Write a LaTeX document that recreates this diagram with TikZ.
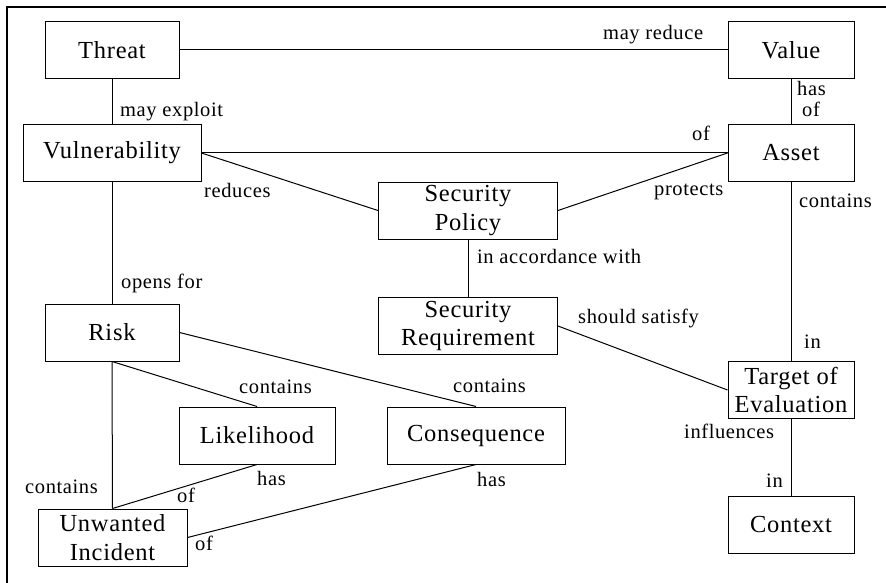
\documentclass[tikz,border=0pt]{standalone}
\usepackage{fontspec}
\setmainfont[LetterSpace=3]{Liberation Serif}
\usetikzlibrary{positioning}

\tikzset{
	entity/.style = {draw, line width = 1pt, minimum height = 57pt, inner sep = 0pt,
		align = center, font = \fontsize{24.5}{28.5}\selectfont},
	lbl/.style = {inner sep = 0pt, anchor = base west, font = \fontsize{20.5}{24}\selectfont},
	link/.style = {line width = 1pt}
}

\begin{document}
\begin{tikzpicture}[x = 1pt, y = -1pt]
	\useasboundingbox (0,0) rectangle (886,583);

	% frame
	\draw [line width = 2.5pt] (7,583) -- (7,7) -- (886,7);

	% entities
	\node [entity, minimum width = 134pt] (threat) at (112,50) {Threat};
	\node [entity, minimum width = 126pt] (value) at (791,50) {Value};
	\node [entity, minimum width = 178pt] (vuln) at (112,153) {Vulnerability};
	\node [entity, minimum width = 126pt] (asset) at (791,153) {Asset};
	\node [entity, minimum width = 179pt] (policy) at (468,210.5) {Security\\Policy};
	\node [entity, minimum width = 179pt] (req) at (468,326) {Security\\Requirement};
	\node [entity, minimum width = 134pt] (risk) at (112,332.5) {Risk};
	\node [entity, minimum width = 156pt] (likeli) at (257,435.5) {Likelihood};
	\node [entity, minimum width = 178pt] (conseq) at (476,435.5) {Consequence};
	\node [entity, minimum width = 149pt] (incident) at (112.5,537.5) {Unwanted\\Incident};
	\node [entity, minimum width = 126pt] (toe) at (791,390) {Target of\\Evaluation};
	\node [entity, minimum width = 126pt] (context) at (791,524.5) {Context};

	% associations
	\draw [link] (threat.east) -- (value.west);
	\draw [link] (threat) -- (vuln);
	\draw [link] (value) -- (asset);
	\draw [link] (vuln.east) -- (asset.west);
	\draw [link] (vuln.east) -- (policy.west);
	\draw [link] (asset.west) -- (policy.east);
	\draw [link] (asset) -- (toe);
	\draw [link] (policy) -- (req);
	\draw [link] (req.east) -- (toe.west);
	\draw [link] (toe) -- (context);
	\draw [link] (vuln) -- (risk);
	\draw [link] (risk.east) -- (conseq.north);
	\draw [link] (risk.south) -- (likeli.north);
	\draw [link] (risk.south) -- (incident.north);
	\draw [link] (likeli.south) -- (incident.north);
	\draw [link] (conseq.south) -- (incident.east);

	% roles
	\node [lbl] (l-mayreduce) at (603,40) {may reduce};
	\node [lbl] (l-mayexploit) at (120,117) {may exploit};
	\node [lbl] (l-has-value) at (797,96) {has};
	\node [lbl] (l-of-value) at (802,117) {of};
	\node [lbl] (l-of-asset) at (692,141) {of};
	\node [lbl] (l-reduces) at (204,197) {reduces};
	\node [lbl] (l-protects) at (654,195) {protects};
	\node [lbl] (l-contains-asset) at (799,207) {contains};
	\node [lbl] (l-accordance) at (477,263) {in accordance with};
	\node [lbl] (l-opensfor) at (121,288) {opens for};
	\node [lbl] (l-satisfy) at (578,323) {should satisfy};
	\node [lbl] (l-in-toe) at (804,348) {in};
	\node [lbl] (l-influences) at (684,438) {influences};
	\node [lbl] (l-in-context) at (766,487) {in};
	\node [lbl] (l-contains-conseq) at (453,392) {contains};
	\node [lbl] (l-has-conseq) at (477,486) {has};
	\node [lbl] (l-contains-likeli) at (239,393) {contains};
	\node [lbl] (l-has-likeli) at (257,485) {has};
	\node [lbl] (l-contains-incident) at (25,493) {contains};
	\node [lbl] (l-of-likeli) at (177,502) {of};
	\node [lbl] (l-of-conseq) at (195,550) {of};
\end{tikzpicture}
\end{document}
